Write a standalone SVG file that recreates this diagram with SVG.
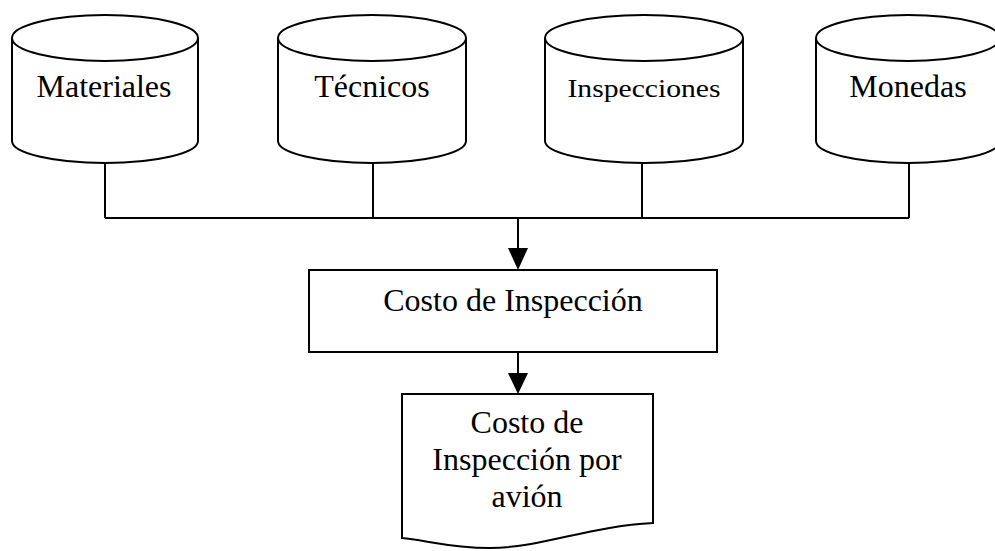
<svg xmlns="http://www.w3.org/2000/svg" width="995" height="551" viewBox="0 0 995 551">
<defs>
<style>
.shape{fill:#fff;stroke:#000;stroke-width:2}
.line{fill:none;stroke:#000;stroke-width:2}
text{font-family:"Liberation Serif","Times New Roman",serif;font-size:32px;fill:#000;text-anchor:middle}
</style>
<marker id="arr" markerWidth="10" markerHeight="10" refX="10" refY="5" orient="auto" markerUnits="userSpaceOnUse" viewBox="0 0 10 10">
<path d="M0,0 L10,5 L0,10 Z" fill="#000"/>
</marker>
</defs>
<rect width="995" height="551" fill="#fff"/>
<g id="connectors">
<path class="line" d="M105,163 V218 M373,163 V218 M642,163 V218 M909,163 V218 M105,218 H909"/>
<path d="M518,218 V250" class="line"/>
<path d="M508,248 L528,248 L518,270 Z" fill="#000"/>
<path d="M518,352 V375" class="line"/>
<path d="M508,373 L528,373 L518,394 Z" fill="#000"/>
</g>
<g id="materiales">
<path class="shape" d="M12,38 V141 A93,22 0 0 0 198,141 V38"/>
<ellipse class="shape" cx="105" cy="38" rx="93" ry="23"/>
<text x="104" y="97">Materiales</text>
</g>
<g id="tecnicos">
<path class="shape" d="M278,38 V141 A94,22 0 0 0 466,141 V38"/>
<ellipse class="shape" cx="372" cy="38" rx="94" ry="23"/>
<text x="372" y="97">Técnicos</text>
</g>
<g id="inspecciones">
<path class="shape" d="M545,38 V141 A99,22 0 0 0 743,141 V38"/>
<ellipse class="shape" cx="644" cy="38" rx="99" ry="23"/>
<text x="644" y="97" style="font-size:26px" textLength="153" lengthAdjust="spacingAndGlyphs">Inspecciones</text>
</g>
<g id="monedas">
<path class="shape" d="M816,38 V141 A92,22 0 0 0 1000,141 V38"/>
<ellipse class="shape" cx="908" cy="38" rx="92" ry="23"/>
<text x="908" y="97">Monedas</text>
</g>
<g id="costo-inspeccion">
<rect class="shape" x="309" y="270" width="408" height="82"/>
<text x="513" y="311">Costo de Inspección</text>
</g>
<g id="costo-por-avion">
<path class="shape" d="M402,394 H653 V523 C590,526 540,548 490,548 C450,548 425,540 402,538 Z"/>
<text x="527" y="433">Costo de</text>
<text x="527" y="470">Inspección por</text>
<text x="527" y="507">avión</text>
</g>
</svg>
